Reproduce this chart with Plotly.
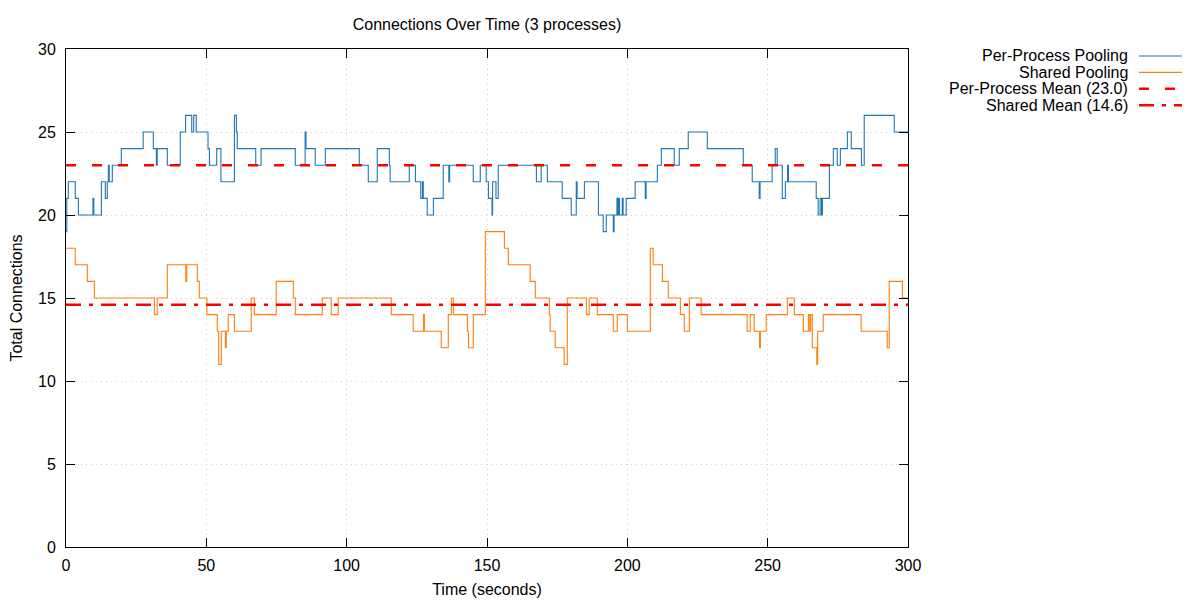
import plotly.graph_objects as go

# step data: time (s) where the value changes, and the new value
per_process_t = [0, 0.3, 0.8, 3.3, 4.4, 9.6, 9.9, 12.6, 14.0, 14.7, 15.1, 15.4, 16.5, 19.7,
                 27.5, 31.1, 32.2, 32.5, 36.1, 40.7, 42.6, 44.8, 45.5, 46.4, 50.6, 51.1,
                 53.7, 55.2, 60.0, 60.7, 61.0, 67.6, 69.5, 81.7, 85.2, 85.5, 88.8, 92.4,
                 104.5, 107.7, 110.9, 115.2, 115.5, 122.3, 124.5, 126.4, 127.0, 127.3,
                 128.7, 130.9, 134.4, 136.4, 136.7, 145.1, 147.6, 149.7, 150.5, 151.8,
                 152.0, 153.2, 154.0, 167.6, 169.3, 171.5, 176.8, 180.0, 181.8, 182.1,
                 184.7, 189.7, 191.4, 192.5, 195.0, 195.3, 196.3, 196.6, 196.9, 197.2,
                 198.2, 198.5, 199.6, 202.8, 206.4, 206.7, 210.7, 212.1, 216.7, 218.5,
                 221.7, 228.5, 241.3, 244.5, 247.0, 247.3, 251.6, 252.7, 253.4, 255.2,
                 256.3, 257.1, 257.4, 267.3, 268.0, 268.7, 269.2, 269.5, 272.0, 273.4,
                 274.8, 275.9, 278.4, 279.8, 283.4, 284.4, 295.1, 300]
per_process_v = [19, 21, 22, 21, 20, 21, 20, 22, 21, 22, 23, 22, 23, 24,
                 25, 24, 23, 24, 23, 25, 26, 25, 26, 25, 24, 23,
                 24, 22, 26, 25, 24, 23, 24, 23, 25, 24, 23, 24,
                 23, 22, 24, 23, 22, 23, 22, 21, 22, 21,
                 20, 21, 23, 22, 23, 22, 23, 22, 21, 20,
                 22, 21, 23, 22, 23, 22, 21, 20, 22, 21,
                 22, 20, 19, 20, 19, 20, 21, 20, 21, 20,
                 21, 20, 21, 22, 21, 22, 23, 24, 23, 24,
                 25, 24, 23, 22, 21, 22, 23, 24, 23, 21,
                 22, 23, 22, 21, 20, 21, 20, 21, 23, 24,
                 23, 24, 25, 24, 23, 26, 25, 25]

shared_t = [0, 3.3, 7.6, 10.1, 31.5, 32.5, 36.1, 42.7, 43.0, 46.8, 47.5, 50.2, 53.9, 54.4,
            55.3, 56.8, 57.1, 57.8, 60.0, 66.0, 67.1, 74.9, 81.0, 81.7, 91.3, 94.5,
            97.0, 115.9, 123.7, 127.4, 127.7, 133.7, 136.2, 137.3, 138.0, 143.0, 143.4,
            145.1, 149.4, 156.2, 157.6, 165.4, 167.2, 172.2, 172.5, 174.3, 177.5, 178.6,
            185.4, 186.4, 189.3, 195.0, 196.4, 200.0, 208.2, 209.2, 212.5, 214.6, 218.9,
            220.3, 222.1, 226.3, 242.7, 243.8, 245.2, 247.1, 247.4, 249.5, 257.0, 259.5,
            262.7, 264.5, 265.0, 265.3, 265.9, 267.5, 267.8, 269.8, 283.3, 292.6, 293.3,
            298.0, 300]
shared_v = [18, 17, 16, 15, 14, 15, 17, 16, 17, 16, 15, 14, 13, 11,
            13, 12, 13, 14, 13, 15, 14, 16, 15, 14, 15, 14,
            15, 14, 13, 14, 13, 12, 14, 15, 14, 13, 12,
            14, 19, 18, 17, 16, 15, 14, 13, 12, 11, 15,
            14, 15, 14, 13, 14, 13, 18, 17, 16, 15, 14,
            13, 15, 14, 13, 14, 13, 12, 13, 14, 15, 14,
            13, 14, 13, 14, 12, 11, 13, 14, 13, 12, 16,
            15, 15]

per_process_mean = 23.0
shared_mean = 14.6
time_range = [0, 300]

BLUE = '#1f77b4'
ORANGE = '#ff7f0e'
RED = '#ff0000'
FONT = 'Liberation Sans, Arial, sans-serif'

fig = go.Figure()
fig.add_trace(go.Scatter(x=per_process_t, y=per_process_v, mode='lines', line_shape='hv',
                         line=dict(color=BLUE, width=1.1), name='Per-Process Pooling'))
fig.add_trace(go.Scatter(x=shared_t, y=shared_v, mode='lines', line_shape='hv',
                         line=dict(color=ORANGE, width=1.1), name='Shared Pooling'))
fig.add_trace(go.Scatter(x=time_range, y=[per_process_mean] * 2, mode='lines',
                         line=dict(color=RED, width=2.5, dash='10px,16px'),
                         name=f'Per-Process Mean ({per_process_mean:.1f})'))
fig.add_trace(go.Scatter(x=time_range, y=[shared_mean] * 2, mode='lines',
                         line=dict(color=RED, width=2.5, dash='15px,8px,4px,8px'),
                         name=f'Shared Mean ({shared_mean:.1f})'))

# gnuplot-style key: text right-aligned, sample line on the right
legend_rows = [
    ('Per-Process Pooling', BLUE, 'solid', 1.1),
    ('Shared Pooling', ORANGE, 'solid', 1.1),
    (f'Per-Process Mean ({per_process_mean:.1f})', RED, '10px,16px', 2.5),
    (f'Shared Mean ({shared_mean:.1f})', RED, '15px,8px,4px,8px', 2.5),
]
row_y = [0.986, 0.953, 0.920, 0.887]
for (label, col, dash, w), yy in zip(legend_rows, row_y):
    fig.add_annotation(x=1.2637, y=yy, xref='paper', yref='paper', text=label,
                       showarrow=False, xanchor='right', yanchor='middle',
                       font=dict(size=16, color='black', family=FONT))
    fig.add_shape(type='line', xref='paper', yref='paper', x0=1.2743, x1=1.3254,
                  y0=yy, y1=yy, line=dict(color=col, width=w, dash=dash))

axis_common = dict(showline=True, linecolor='black', linewidth=1, mirror='ticks',
                   ticks='inside', ticklen=9, tickcolor='black', tickwidth=1,
                   showgrid=True, gridcolor='#cfcfcf', griddash='1px,4px', gridwidth=1,
                   zeroline=False, automargin=False,
                   tickfont=dict(size=16, color='black', family=FONT))

fig.update_xaxes(range=time_range, tickvals=[0, 50, 100, 150, 200, 250, 300],
                 title=dict(text='Time (seconds)', standoff=10,
                            font=dict(size=16, color='black', family=FONT)),
                 ticklabelstandoff=4, **axis_common)
fig.update_yaxes(range=[0, 30], tickvals=[0, 5, 10, 15, 20, 25, 30],
                 title=dict(text='Total Connections', standoff=11,
                            font=dict(size=16, color='black', family=FONT)),
                 ticklabelstandoff=6, **axis_common)

fig.update_layout(
    width=1200, height=600,
    margin=dict(l=66, r=292, t=49, b=53),
    paper_bgcolor='white', plot_bgcolor='white',
    showlegend=False,
    title=dict(text='Connections Over Time (3 processes)', x=0.5, xref='paper',
               y=1 - 24 / 600, yanchor='middle', xanchor='center',
               font=dict(size=16, color='black', family=FONT)),
    font=dict(family=FONT, size=16, color='black'),
)

# drop the page's default body margin so the figure sits at the window's corner
fig.write_html('out.html', config={'displayModeBar': False},
               post_script="document.body.style.margin='0';document.body.style.overflow='hidden';")
